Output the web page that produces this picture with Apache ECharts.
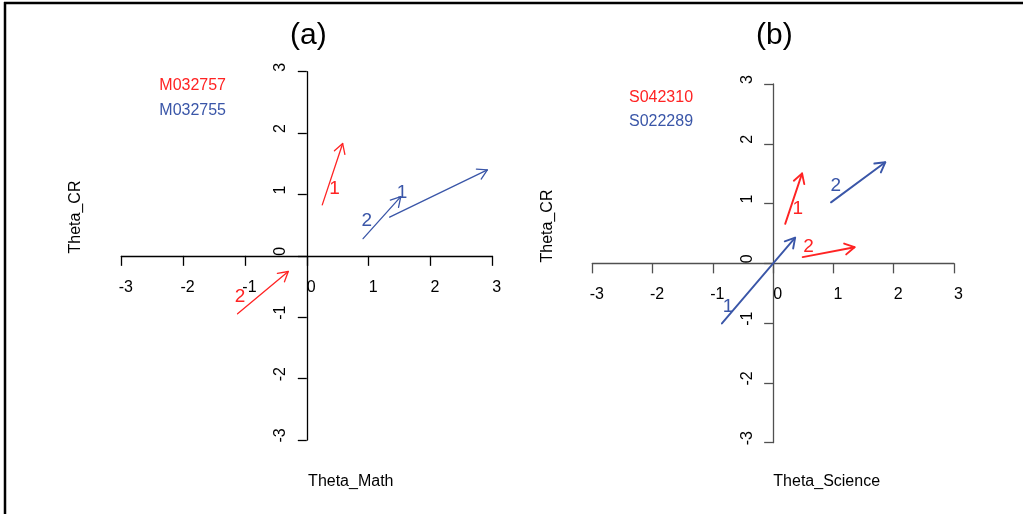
<!DOCTYPE html>
<html>
<head>
<meta charset="utf-8">
<script src="https://cdn.jsdelivr.net/npm/echarts@6/dist/echarts.min.js"></script>
<style>
html,body{margin:0;padding:0;background:#fff;}
#chart{width:1023px;height:514px;}
</style>
</head>
<body>
<div id="chart"></div>
<script>
// ---- data ----
const tickValues = [-3, -2, -1, 0, 1, 2, 3];
const panelTitles = ['(a)', '(b)'];
const xAxisNames = ['Theta_Math', 'Theta_Science'];
const yAxisNames = ['Theta_CR', 'Theta_CR'];
const itemNamesA = ['M032757', 'M032755'];
const itemNamesB = ['S042310', 'S022289'];
// arrows: [x0, y0, x1, y1]
const aRedArrows = [[0.25, 0.83, 0.58, 1.83], [-1.12, -0.945, -0.30, -0.255]];
const aBlueArrows = [[1.34, 0.63, 2.92, 1.40], [0.91, 0.28, 1.52, 0.965]];
const bRedArrows = [[0.20, 0.66, 0.48, 1.505], [0.49, 0.105, 1.35, 0.27]];
const bBlueArrows = [[-0.85, -1.005, 0.365, 0.43], [0.96, 1.02, 1.86, 1.69]];
// dimension labels: [x, y, text]
const aRedLabels = [[0.45, 1.10, '1'], [-1.08, -0.66, '2']];
const aBlueLabels = [[1.54, 1.02, '1'], [0.97, 0.575, '2']];
const bRedLabels = [[0.41, 0.91, '1'], [0.585, 0.28, '2']];
const bBlueLabels = [[-0.75, -0.73, '1'], [1.04, 1.29, '2']];

// ---- styles ----
const RED = '#ff2323';
const BLUE = '#3a56a8';
const FONT = '"Liberation Sans", Arial, Helvetica, sans-serif';
const axisColors = ['#000000', '#505050'];
const arrowWidths = [1.3, 1.9];

function arrowSeries(data, color, gi, width) {
  return {
    type: 'custom', xAxisIndex: gi, yAxisIndex: gi,
    data: data, encode: {x: [0, 2], y: [1, 3]},
    clip: false, silent: true,
    renderItem: function (params, api) {
      const p0 = api.coord([api.value(0), api.value(1)]);
      const p1 = api.coord([api.value(2), api.value(3)]);
      const ang = Math.atan2(p1[1] - p0[1], p1[0] - p0[0]);
      const L = 11, h = Math.PI / 6;
      const w1 = [p1[0] - L * Math.cos(ang - h), p1[1] - L * Math.sin(ang - h)];
      const w2 = [p1[0] - L * Math.cos(ang + h), p1[1] - L * Math.sin(ang + h)];
      const st = {stroke: color, lineWidth: width, fill: null, lineCap: 'round', lineJoin: 'round'};
      return {
        type: 'group',
        children: [
          {type: 'line', shape: {x1: p0[0], y1: p0[1], x2: p1[0], y2: p1[1]}, style: st},
          {type: 'polyline', shape: {points: [w1, p1, w2]}, style: st}
        ]
      };
    }
  };
}
function labelSeries(data, color, gi) {
  return {
    type: 'custom', xAxisIndex: gi, yAxisIndex: gi,
    data: data, encode: {x: 0, y: 1},
    clip: false, silent: true,
    renderItem: function (params, api) {
      const p = api.coord([api.value(0), api.value(1)]);
      return {
        type: 'text', x: p[0], y: p[1],
        style: {text: data[params.dataIndex][2], fill: color, font: '19px ' + FONT, align: 'center', verticalAlign: 'middle'}
      };
    }
  };
}
// tick labels drawn at the zero-crossing axes (R style)
function tickLabelSeries(gi, isX) {
  return {
    type: 'custom', xAxisIndex: gi, yAxisIndex: gi,
    data: tickValues.map(v => [v]), encode: isX ? {x: 0} : {y: 0},
    clip: false, silent: true,
    renderItem: function (params, api) {
      const v = api.value(0);
      if (isX) {
        const p = api.coord([v, 0]);
        return {type: 'text', x: p[0] + 4.5, y: p[1] + 31.5,
          style: {text: String(v), fill: '#000', font: '16px ' + FONT, align: 'center', verticalAlign: 'middle'}};
      }
      const p = api.coord([0, v]);
      return {type: 'text', x: p[0] - 26, y: p[1] - 4.5, rotation: Math.PI / 2,
        style: {text: String(v), fill: '#000', font: '16px ' + FONT, align: 'center', verticalAlign: 'middle'}};
    }
  };
}
function xAx(gi) {
  return {
    type: 'value', gridIndex: gi, min: tickValues[0], max: tickValues[tickValues.length - 1], interval: 1,
    axisLine: {onZero: true, lineStyle: {color: axisColors[gi], width: 1.3}},
    axisTick: {length: 10, lineStyle: {color: axisColors[gi], width: 1.3}},
    splitLine: {show: false},
    axisLabel: {show: false}
  };
}
function yAx(gi) {
  return {
    type: 'value', gridIndex: gi, min: tickValues[0], max: tickValues[tickValues.length - 1], interval: 1,
    axisLine: {onZero: true, lineStyle: {color: axisColors[gi], width: 1.3}},
    axisTick: {length: 9, lineStyle: {color: axisColors[gi], width: 1.3}},
    splitLine: {show: false},
    axisLabel: {show: false}
  };
}
function txt(x, y, text, color, size, opts) {
  return Object.assign({
    type: 'text', x: x, y: y, silent: true,
    style: Object.assign({text: text, fill: color, font: size + 'px ' + FONT, align: 'center', verticalAlign: 'middle'}, (opts && opts.style) || {})
  }, (opts && opts.el) || {});
}

const chart = echarts.init(document.getElementById('chart'), null, {renderer: 'canvas'});
chart.setOption({
  backgroundColor: '#ffffff',
  animation: false,
  grid: [
    {left: 121.3, top: 71.7, width: 371, height: 368.3},
    {left: 592.3, top: 84, width: 361.7, height: 358.7}
  ],
  xAxis: [xAx(0), xAx(1)],
  yAxis: [yAx(0), yAx(1)],
  series: [
    arrowSeries(aRedArrows, RED, 0, arrowWidths[0]),
    arrowSeries(aBlueArrows, BLUE, 0, arrowWidths[0]),
    arrowSeries(bRedArrows, RED, 1, arrowWidths[1]),
    arrowSeries(bBlueArrows, BLUE, 1, arrowWidths[1]),
    labelSeries(aRedLabels, RED, 0),
    labelSeries(aBlueLabels, BLUE, 0),
    labelSeries(bRedLabels, RED, 1),
    labelSeries(bBlueLabels, BLUE, 1),
    tickLabelSeries(0, true),
    tickLabelSeries(0, false),
    tickLabelSeries(1, true),
    tickLabelSeries(1, false)
  ],
  graphic: [
    {type: 'line', silent: true, shape: {x1: 4, y1: 3, x2: 1023, y2: 3}, style: {stroke: '#000', lineWidth: 2.5}},
    {type: 'line', silent: true, shape: {x1: 5, y1: 2, x2: 5, y2: 514}, style: {stroke: '#000', lineWidth: 2.5}},
    txt(308.3, 36, panelTitles[0], '#000', 30),
    txt(774.3, 36, panelTitles[1], '#000', 30),
    txt(350.8, 482, xAxisNames[0], '#000', 16),
    txt(826.7, 482, xAxisNames[1], '#000', 16),
    txt(76, 217, yAxisNames[0], '#000', 16, {el: {rotation: Math.PI / 2}}),
    txt(548, 226, yAxisNames[1], '#000', 16, {el: {rotation: Math.PI / 2}}),
    txt(159.3, 86, itemNamesA[0], RED, 16, {style: {align: 'left'}}),
    txt(159.3, 110.5, itemNamesA[1], BLUE, 16, {style: {align: 'left'}}),
    txt(629, 97.3, itemNamesB[0], RED, 16, {style: {align: 'left'}}),
    txt(629, 121.7, itemNamesB[1], BLUE, 16, {style: {align: 'left'}})
  ]
});
</script>
</body>
</html>
